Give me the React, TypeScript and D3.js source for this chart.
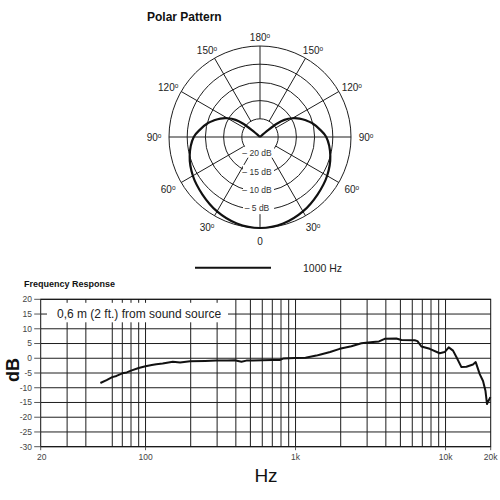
import { useEffect, useRef } from 'react'
import * as d3 from 'd3'

// Polar pattern at 1000 Hz, one side only (0 = front, drawn at the bottom), mirrored for the other side
const POLAR_ANGLES = [0, 15, 30, 45, 60, 75, 90, 97, 105, 110, 115, 120, 125, 128, 130, 133]
const POLAR_DB = [0, -0.4, -1.4, -2.65, -3.7, -5.0, -6.8, -8.4, -10.2, -11.6, -13.0, -14.7, -16.8, -19, -22, -25]
const POLAR_RINGS = [-20, -15, -10, -5, 0]
const RING_LABELS = [-20, -15, -10, -5]
const POLAR_SPOKES = [30, 60, 120, 150]
const POLAR_ANGLE_LABELS = [0, 30, 60, 90, 120, 150, 180]

// Frequency response
const FREQ_HZ = [
  50, 55, 60, 64, 70, 75, 80, 90, 100, 110, 118, 130, 152, 170, 198, 250, 296, 350, 393, 436, 470,
  520, 600, 700, 785, 825, 900, 990, 1165, 1376, 1449, 1700, 1969, 2357, 2747, 3284, 3600, 3930,
  4700, 5080, 6230, 6500, 6900, 7840, 9140, 9870, 10500, 11220, 11810, 12760, 13780, 15240, 15890,
  16900, 17780, 18450, 18890, 19900,
]
const RESPONSE_DB = [
  -8.4, -7.4, -6.4, -6.0, -5.1, -4.8, -4.2, -3.3, -2.7, -2.3, -2.0, -1.8, -1.2, -1.4, -1.0, -0.9,
  -0.8, -0.8, -0.7, -1.2, -0.8, -0.8, -0.7, -0.6, -0.6, -0.1, 0.0, 0.1, 0.2, 0.9, 1.2, 2.1, 3.2,
  4.1, 5.1, 5.5, 5.7, 6.6, 6.7, 6.2, 6.1, 5.8, 4.0, 3.2, 1.7, 2.1, 3.7, 2.6, 0.4, -3.0, -2.9, -2.1,
  -1.3, -5.4, -7.7, -11.0, -15.5, -13.2,
]
const GRID_HZ = [
  30, 40, 60, 70, 80, 90, 100, 200, 300, 400, 500, 600, 700, 800, 900, 1000,
  2000, 3000, 4000, 5000, 6000, 7000, 8000, 9000, 10000,
]
const X_TICKS = [20, 100, 1000, 10000, 20000]
const X_TICK_LABELS = ['20', '100', '1k', '10k', '20k']
const Y_TICKS = [20, 15, 10, 5, 0, -5, -10, -15, -20, -25, -30]

const FONT = '"Liberation Sans", Arial, Helvetica, sans-serif'
const GRID = '#1e1e1e'

const App = () => {
  const svgRef = useRef<SVGSVGElement>(null)

  useEffect(() => {
    if (!svgRef.current) return
    const svg = d3.select(svgRef.current)
    svg.selectAll('*').remove()

    // ---------- Polar pattern ----------
    const cx = 260
    const cy = 137
    const rScale = d3.scaleLinear().domain([-25, 0]).range([0, 91]).clamp(true)
    const pt = (deg: number, r: number): [number, number] => {
      const a = (deg * Math.PI) / 180
      return [cx + r * Math.sin(a), cy + r * Math.cos(a)]
    }

    svg.append('text')
      .attr('x', 147)
      .attr('y', 21)
      .attr('font-family', FONT)
      .attr('font-weight', 'bold')
      .attr('font-size', 12)
      .attr('fill', '#111')
      .text('Polar Pattern')

    const pg = svg.append('g')

    pg.selectAll('.ring')
      .data(POLAR_RINGS)
      .enter()
      .append('circle')
      .attr('cx', cx)
      .attr('cy', cy)
      .attr('r', d => rScale(d))
      .attr('fill', 'none')
      .attr('stroke', GRID)
      .attr('stroke-width', 1)

    // spokes on both sides
    const spokes = POLAR_SPOKES.flatMap(a => [a, -a])
    pg.selectAll('.spoke')
      .data(spokes)
      .enter()
      .append('line')
      .attr('x1', d => pt(d, rScale(-20))[0])
      .attr('y1', d => pt(d, rScale(-20))[1])
      .attr('x2', d => pt(d, rScale(0))[0])
      .attr('y2', d => pt(d, rScale(0))[1])
      .attr('stroke', GRID)
      .attr('stroke-width', 1)

    // 90-90 line goes straight across, 180 stops at inner ring, 0 is short (labels sit on it)
    pg.append('line')
      .attr('x1', pt(-90, rScale(0))[0]).attr('y1', cy)
      .attr('x2', pt(90, rScale(0))[0]).attr('y2', cy)
      .attr('stroke', GRID).attr('stroke-width', 1)
    pg.append('line')
      .attr('x1', cx).attr('y1', pt(180, rScale(-20))[1])
      .attr('x2', cx).attr('y2', pt(180, rScale(0))[1])
      .attr('stroke', GRID).attr('stroke-width', 1)
    pg.append('line')
      .attr('x1', cx).attr('y1', pt(0, rScale(-3.8))[1])
      .attr('x2', cx).attr('y2', pt(0, rScale(0))[1])
      .attr('stroke', GRID).attr('stroke-width', 1)

    // ring labels with white backing
    const ringLab = pg.selectAll('.ringLabel')
      .data(RING_LABELS)
      .enter()
      .append('g')
    ringLab.append('rect')
      .attr('x', cx - 17)
      .attr('y', d => cy + rScale(d) - 8.5)
      .attr('width', 31)
      .attr('height', 11)
      .attr('fill', '#fff')
    ringLab.append('text')
      .attr('x', cx - 3)
      .attr('y', d => cy + rScale(d) + 1.2)
      .attr('text-anchor', 'middle')
      .attr('font-family', FONT)
      .attr('font-size', 8.5)
      .attr('fill', '#333')
      .text(d => `\u2013 ${Math.abs(d)} dB`)

    // angle labels
    const angleLabels = POLAR_ANGLE_LABELS.flatMap(a => (a === 0 || a === 180 ? [a] : [a, -a]))
    const lab = pg.selectAll('.angleLabel')
      .data(angleLabels)
      .enter()
      .append('text')
      .attr('x', d => cx + 106 * Math.sin((d * Math.PI) / 180))
      .attr('y', d => {
        const c = Math.cos((d * Math.PI) / 180)
        return cy + (c > 0 ? 104 : 100) * c
      })
      .attr('dy', '0.35em')
      .attr('text-anchor', 'middle')
      .attr('font-family', FONT)
      .attr('font-size', 10)
      .attr('fill', '#222')
    lab.append('tspan').text(d => `${Math.abs(d)}`)
    lab.filter(d => d !== 0)
      .append('tspan')
      .attr('font-size', 6.5)
      .attr('dy', '-0.45em')
      .text('o')

    // polar curve, mirrored
    const pts: [number, number][] = []
    for (let i = POLAR_ANGLES.length - 1; i > 0; i--) pts.push([-POLAR_ANGLES[i], POLAR_DB[i]])
    POLAR_ANGLES.forEach((a, i) => pts.push([a, POLAR_DB[i]]))
    const radial = d3.lineRadial<[number, number]>()
      .angle(d => Math.PI - (d[0] * Math.PI) / 180)
      .radius(d => rScale(d[1]))
      .curve(d3.curveCatmullRom.alpha(0.5))
    pg.append('path')
      .attr('transform', `translate(${cx},${cy})`)
      .attr('d', radial(pts) || '')
      .attr('fill', 'none')
      .attr('stroke', '#111')
      .attr('stroke-width', 2.2)
      .attr('stroke-linejoin', 'miter')

    // legend
    svg.append('line')
      .attr('x1', 195).attr('x2', 271)
      .attr('y1', 267.7).attr('y2', 267.7)
      .attr('stroke', '#111').attr('stroke-width', 2)
    svg.append('text')
      .attr('x', 303).attr('y', 272)
      .attr('font-family', FONT).attr('font-size', 10.5).attr('fill', '#222')
      .text('1000 Hz')

    // ---------- Frequency response ----------
    const x = d3.scaleLog().domain([20, 20000]).range([40.7, 490.7])
    const y = d3.scaleLinear().domain([-30, 20]).range([446.7, 299.3])

    svg.append('text')
      .attr('x', 24).attr('y', 286.5)
      .attr('font-family', FONT).attr('font-weight', 'bold').attr('font-size', 9)
      .attr('fill', '#111')
      .text('Frequency Response')

    const fg = svg.append('g')

    fg.selectAll('.hgrid')
      .data(Y_TICKS)
      .enter()
      .append('line')
      .attr('x1', x(20)).attr('x2', x(20000))
      .attr('y1', d => y(d)).attr('y2', d => y(d))
      .attr('stroke', GRID).attr('stroke-width', 1)

    fg.selectAll('.vgrid')
      .data(GRID_HZ)
      .enter()
      .append('line')
      .attr('x1', d => x(d)).attr('x2', d => x(d))
      .attr('y1', y(20)).attr('y2', y(-30))
      .attr('stroke', GRID).attr('stroke-width', 1)

    // caption on the 15 dB line
    fg.append('rect')
      .attr('x', 47).attr('y', y(20) + 3.5)
      .attr('width', 181).attr('height', 19.5)
      .attr('fill', '#fff')
    fg.append('text')
      .attr('x', 57).attr('y', y(15) + 4.3)
      .attr('font-family', FONT).attr('font-size', 12).attr('fill', '#222')
      .text('0,6 m (2 ft.) from sound source')

    fg.append('rect')
      .attr('x', x(20)).attr('y', y(20))
      .attr('width', x(20000) - x(20)).attr('height', y(-30) - y(20))
      .attr('fill', 'none').attr('stroke', '#111').attr('stroke-width', 1)

    // y ticks
    fg.selectAll('.ytick')
      .data(Y_TICKS)
      .enter()
      .append('line')
      .attr('x1', x(20) - 6.5).attr('x2', x(20))
      .attr('y1', d => y(d)).attr('y2', d => y(d))
      .attr('stroke', '#444').attr('stroke-width', 0.9)
    fg.selectAll('.ylabel')
      .data(Y_TICKS)
      .enter()
      .append('text')
      .attr('x', 32).attr('y', d => y(d))
      .attr('dy', '0.35em')
      .attr('text-anchor', 'end')
      .attr('font-family', FONT).attr('font-size', 8.5).attr('fill', '#444')
      .text(d => `${d}`)

    // x ticks
    fg.selectAll('.xtick')
      .data(X_TICKS)
      .enter()
      .append('line')
      .attr('x1', d => x(d)).attr('x2', d => x(d))
      .attr('y1', y(-30)).attr('y2', y(-30) + 3.5)
      .attr('stroke', '#444').attr('stroke-width', 0.9)
    fg.selectAll('.xlabel')
      .data(X_TICKS)
      .enter()
      .append('text')
      .attr('x', (d, i) => x(d) + (i === 0 ? 1 : 0))
      .attr('y', y(-30) + 13)
      .attr('text-anchor', 'middle')
      .attr('font-family', FONT).attr('font-size', 8.5).attr('fill', '#444')
      .text((d, i) => X_TICK_LABELS[i])

    // response curve
    const line = d3.line<number>()
      .x((d, i) => x(FREQ_HZ[i]))
      .y(d => y(d))
    fg.append('path')
      .attr('d', line(RESPONSE_DB) || '')
      .attr('fill', 'none')
      .attr('stroke', '#111')
      .attr('stroke-width', 2)
      .attr('stroke-linejoin', 'round')

    // axis titles
    svg.append('text')
      .attr('transform', 'translate(19,370) rotate(-90)')
      .attr('text-anchor', 'middle')
      .attr('font-family', FONT).attr('font-weight', 'bold').attr('font-size', 18)
      .attr('fill', '#111')
      .text('dB')
    svg.append('text')
      .attr('x', 266).attr('y', 482)
      .attr('text-anchor', 'middle')
      .attr('font-family', FONT).attr('font-size', 19).attr('fill', '#111')
      .text('Hz')
  }, [])

  return (
    <svg
      ref={svgRef}
      width={500}
      height={500}
      style={{ position: 'absolute', left: 0, top: 0, background: '#fff' }}
    />
  )
}

export default App
